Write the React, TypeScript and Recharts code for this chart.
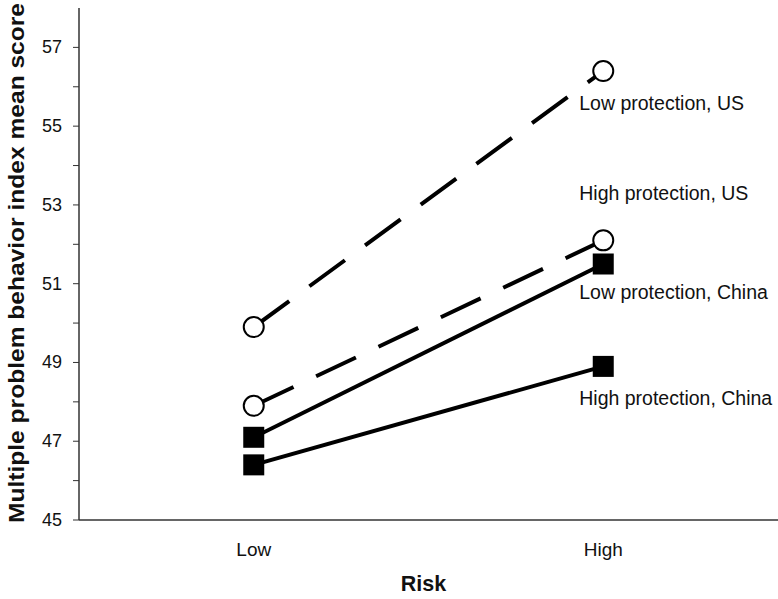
import React from 'react';
import { LineChart, Line, XAxis, YAxis, ReferenceDot } from 'recharts';

const risk = ['Low', 'High'];
const lowProtectionUS = [49.9, 56.4];
const highProtectionUS = [47.9, 52.1];
const lowProtectionChina = [47.1, 51.5];
const highProtectionChina = [46.4, 48.9];
const yTicks = [45, 46, 47, 48, 49, 50, 51, 52, 53, 54, 55, 56, 57];
const seriesNames = ['Low protection, US', 'High protection, US', 'Low protection, China', 'High protection, China'];
const seriesLabelValues = [55.6, 53.3, 50.8, 48.1];

const data = risk.map((r, i) => ({
  risk: r,
  lowUS: lowProtectionUS[i],
  highUS: highProtectionUS[i],
  lowCN: lowProtectionChina[i],
  highCN: highProtectionChina[i],
}));

const FONT = '"Liberation Sans", Arial, sans-serif';

const CircleDot = (props: any) => {
  const { cx, cy, index } = props;
  return <circle key={`c${index}`} cx={cx} cy={cy} r={10} fill="#fff" stroke="#000" strokeWidth={2} />;
};
const SquareDot = (props: any) => {
  const { cx, cy, index } = props;
  return <rect key={`s${index}`} x={cx - 10.5} y={cy - 10.5} width={21} height={21} fill="#000" stroke="none" />;
};

const YTick = (props: any) => {
  const { x, y, payload } = props;
  if (payload.value % 2 === 0) return <g />;
  return (
    <text x={x - 9} y={y} textAnchor="end" dominantBaseline="central" fontFamily={FONT} fontSize={18} fill="#111">
      {payload.value}
    </text>
  );
};

const XTick = (props: any) => {
  const { x, y, payload } = props;
  return (
    <text x={x} y={y + 21} textAnchor="middle" dominantBaseline="central" fontFamily={FONT} fontSize={19} fill="#111">
      {payload.value}
    </text>
  );
};

export default function App() {
  return (
    <div style={{ position: 'absolute', left: 0, top: 0, background: '#fff' }}>
      <LineChart width={778} height={599} data={data} margin={{ top: 8, right: 0, bottom: 0, left: 0 }}>
        <XAxis
          dataKey="risk"
          scale="band"
          height={79}
          axisLine={{ stroke: '#333', strokeWidth: 1.5 }}
          tickLine={false}
          tick={<XTick />}
          label={(p: any) => {
            const vb = p.viewBox;
            return (
              <text x={vb.x + vb.width / 2 - 5} y={584} textAnchor="middle" dominantBaseline="central" fontFamily={FONT} fontSize={21.5} fontWeight="bold" fill="#111">
                Risk
              </text>
            );
          }}
        />
        <YAxis
          type="number"
          domain={[45, 58]}
          ticks={yTicks}
          interval={0}
          width={79}
          axisLine={{ stroke: '#333', strokeWidth: 1.5 }}
          tickLine={{ stroke: '#333', strokeWidth: 1 }}
          tickSize={6}
          tick={<YTick />}
          label={() => {
            const cy = 263;
            return (
              <text
                x={17}
                y={cy}
                transform={`rotate(-90, 17, ${cy})`}
                textAnchor="middle"
                dominantBaseline="central"
                fontFamily={FONT}
                fontSize={21.5}
                fontWeight="bold"
                fill="#111"
                textLength={520}
                lengthAdjust="spacingAndGlyphs"
              >
                Multiple problem behavior index mean score
              </text>
            );
          }}
        />
        <Line dataKey="lowUS" stroke="#000" strokeWidth={4} strokeDasharray="44 25" dot={<CircleDot />} activeDot={false} isAnimationActive={false} />
        <Line dataKey="highUS" stroke="#000" strokeWidth={4} strokeDasharray="44 25" dot={<CircleDot />} activeDot={false} isAnimationActive={false} />
        <Line dataKey="lowCN" stroke="#000" strokeWidth={4} dot={<SquareDot />} activeDot={false} isAnimationActive={false} />
        <Line dataKey="highCN" stroke="#000" strokeWidth={4} dot={<SquareDot />} activeDot={false} isAnimationActive={false} />
        {seriesNames.map((name, i) => (
          <ReferenceDot
            key={name}
            x={risk[1]}
            y={seriesLabelValues[i]}
            r={0}
            stroke="none"
            fill="none"
            label={(p: any) => {
              const vb = p.viewBox;
              const cx = vb.x + (vb.width || 0) / 2;
              const cy = vb.y + (vb.height || 0) / 2;
              return (
                <text x={cx - 24} y={cy} textAnchor="start" dominantBaseline="central" fontFamily={FONT} fontSize={19.5} fill="#111">
                  {name}
                </text>
              );
            }}
          />
        ))}
      </LineChart>
    </div>
  );
}
